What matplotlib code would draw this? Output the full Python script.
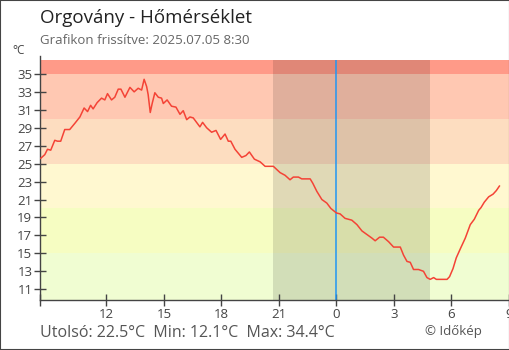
import matplotlib
matplotlib.use("Agg")
import matplotlib.pyplot as plt
import matplotlib.patches as patches

plt.rcParams['font.family'] = ['Open Sans', 'DejaVu Sans']

# hours relative to midnight 2025.07.05, temperature in C
hours = [-15.42, -15.21, -15.07, -14.90, -14.69, -14.55, -14.38, -14.17, -13.91, -13.64,
         -13.38, -13.16, -12.98, -12.82, -12.69, -12.48, -12.25, -12.08, -11.94, -11.73,
         -11.56, -11.38, -11.24, -11.03, -10.77, -10.55, -10.34, -10.16, -10.03, -9.90,
         -9.82, -9.71, -9.61, -9.47, -9.29, -9.12, -9.03, -8.83, -8.60, -8.37,
         -8.16, -7.99, -7.81, -7.64, -7.47, -7.12, -6.98, -6.77, -6.51, -6.28,
         -6.04, -5.81, -5.64, -5.51, -5.29, -4.94, -4.72, -4.54, -4.28, -3.98,
         -3.72, -3.55, -3.29, -2.94, -2.68, -2.42, -2.25, -1.98, -1.81, -1.37,
         -1.23, -1.02, -0.76, -0.50, -0.29, 0.00, 0.19, 0.45, 0.80, 1.07,
         1.33, 1.59, 1.85, 2.02, 2.25, 2.45, 2.72, 2.98, 3.33, 3.50,
         3.68, 3.85, 4.02, 4.28, 4.54, 4.72, 4.89, 5.07, 5.21, 5.50,
         5.77, 5.90, 6.08, 6.25, 6.46, 6.72, 6.98, 7.19, 7.42, 7.54,
         7.71, 7.94, 8.17, 8.34, 8.50]
temps = [25.6, 26.0, 26.6, 26.5, 27.6, 27.5, 27.5, 28.8, 28.8, 29.5,
         30.2, 31.2, 30.8, 31.5, 31.1, 31.8, 32.3, 32.1, 32.8, 32.1,
         32.4, 33.3, 33.3, 32.4, 33.5, 33.0, 33.4, 33.2, 34.4, 33.6,
         32.7, 30.7, 31.7, 32.9, 32.4, 32.3, 31.7, 32.1, 31.4, 31.3,
         30.5, 30.9, 29.9, 30.2, 30.1, 29.1, 29.6, 29.0, 28.5, 28.7,
         27.7, 28.3, 27.5, 27.5, 26.6, 25.7, 25.9, 26.3, 25.5, 25.2,
         24.7, 24.7, 24.7, 24.0, 23.7, 23.2, 23.5, 23.5, 23.3, 23.3,
         22.8, 21.9, 21.0, 20.6, 20.0, 19.5, 19.4, 18.9, 18.7, 18.2,
         17.5, 17.1, 16.7, 16.4, 16.8, 16.8, 16.3, 15.7, 15.7, 14.8,
         14.1, 14.0, 13.2, 13.2, 13.0, 12.3, 12.1, 12.3, 12.1, 12.1,
         12.1, 12.4, 13.3, 14.5, 15.5, 16.7, 18.2, 18.8, 19.8, 20.1,
         20.7, 21.3, 21.6, 22.0, 22.5]

band_edges = [0, 15, 20, 25, 30, 35, 50]
band_colors = ['#f0fdd2', '#f6fdc2', '#fff8d0', '#fdddc0', '#ffc8b2', '#ff9a88']
night = (-3.31, 4.89)

xtick_pos = [-12, -9, -6, -3, 0, 3, 6, 9]
xtick_lab = ['12', '15', '18', '21', '0', '3', '6', '9']
ytick_pos = list(range(11, 37, 2))

title = 'Orgovány - Hőmérséklet'
subtitle = 'Grafikon frissítve: 2025.07.05 8:30'
footer = 'Utolsó: 22.5°C  Min: 12.1°C  Max: 34.4°C'

fig = plt.figure(figsize=(5.1, 3.5), dpi=100)
ax = fig.add_axes([40 / 510, 50 / 350, 469 / 510, 240 / 350])
xmin, xmax = -15.46, 9.0
ymin, ymax = 9.8, 36.55

for i, c in enumerate(band_colors):
    ax.axhspan(band_edges[i], band_edges[i + 1], color=c, lw=0, zorder=0)
ax.axvspan(night[0], night[1], color='black', alpha=0.12, lw=0, zorder=1)
ax.axvline(0, color='#2196f3', lw=1.1, zorder=2)
ax.plot(hours, temps, color='#f44336', lw=1.1, zorder=3)

ax.set_xlim(xmin, xmax)
ax.set_ylim(ymin, ymax)
ax.set_xticks([xmin] + xtick_pos, [''] + xtick_lab)
ax.set_yticks(ytick_pos, [str(v) for v in ytick_pos])
ax.tick_params(direction='inout', length=9, width=1, color='#444444',
               labelcolor='#444444', labelsize=9.5)
ax.tick_params(axis='x', pad=1)
ax.tick_params(axis='y', pad=1)
for s in ['top', 'right']:
    ax.spines[s].set_visible(False)
for s in ['left', 'bottom']:
    ax.spines[s].set_color('#444444')
    ax.spines[s].set_linewidth(1)
ax.spines['left'].set_bounds(ymin, ymax + 0.5)
ax.spines['left'].set_clip_on(False)

fig.text(40 / 510, 1 - 18 / 350, title, fontsize=13.5, color='#222222', va='center')
fig.text(40 / 510, 1 - 40 / 350, subtitle, fontsize=9.5, color='#666666', va='center')
fig.text(12 / 510, 1 - 50 / 350, '°C', fontsize=8.5, color='#444444', va='center')
fig.text(40 / 510, 1 - 333 / 350, footer, fontsize=11.5, color='#555555', va='center')
fig.text(425 / 510, 1 - 331 / 350, '© Időkép', fontsize=9.5, color='#555555', va='center')

fig.patches.append(patches.Rectangle((0, 0), 1, 1, transform=fig.transFigure,
                                     fill=False, edgecolor='#444444', lw=1.5))

fig.savefig('out.png', dpi=100)
